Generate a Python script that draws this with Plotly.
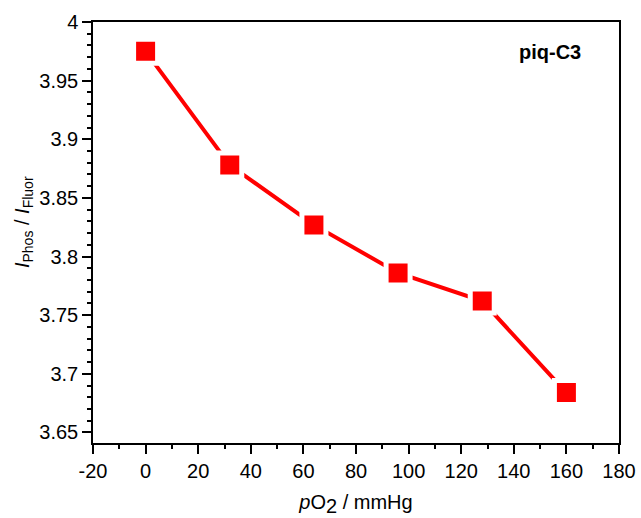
import plotly.graph_objects as go

# Oxygen partial pressure (mmHg) and phosphorescence/fluorescence intensity ratio
po2 = [0, 32, 64, 96, 128, 160]
ratio = [3.975, 3.878, 3.827, 3.786, 3.762, 3.684]

x_tickvals = [-20, 0, 20, 40, 60, 80, 100, 120, 140, 160, 180]
x_ticktext = ["-20", "0", "20", "40", "60", "80", "100", "120", "140", "160", "180"]

sample_label = "piq-C3"
font_family = "Liberation Sans, Arial, sans-serif"

fig = go.Figure()
fig.add_trace(go.Scatter(
    x=po2, y=ratio,
    mode="lines+markers",
    line=dict(color="#ff0000", width=4),
    marker=dict(symbol="square", size=24, color="#ff0000",
                line=dict(color="white", width=5)),
    showlegend=False,
))

axis_common = dict(
    showline=True, linecolor="black", linewidth=1.5, mirror=True,
    ticks="outside", ticklen=9, tickwidth=1.5, tickcolor="black",
    showgrid=False, zeroline=False, automargin=False,
    tickfont=dict(family=font_family, size=20, color="black"),
)

fig.update_xaxes(
    range=[-20, 180], tickvals=x_tickvals, ticktext=x_ticktext,
    minor=dict(ticks="outside", ticklen=4, tickwidth=1.5, tickcolor="black", dtick=10),
    title=dict(text="<i>p</i>O<sub><span style='font-size:20px'>2</span></sub> / mmHg",
               font=dict(family=font_family, size=20, color="black"), standoff=14),
    **axis_common,
)
fig.update_yaxes(
    range=[3.641, 4.0], tick0=4, dtick=0.05,
    minor=dict(ticks="outside", ticklen=4, tickwidth=1.5, tickcolor="black", dtick=0.01),
    **axis_common,
)

# y-axis title as a rotated annotation for precise placement
fig.add_annotation(
    x=-0.131, y=0.525, xref="paper", yref="paper",
    xanchor="center", yanchor="middle", textangle=-90,
    text="<i>I</i><sub>Phos</sub> / <i>I</i><sub>Fluor</sub>", showarrow=False,
    font=dict(family=font_family, size=20, color="black"),
)

fig.add_annotation(
    x=0.868, y=0.929, xref="paper", yref="paper",
    xanchor="center", yanchor="middle",
    text="<b>" + sample_label + "</b>", showarrow=False,
    font=dict(family=font_family, size=20, color="black"),
)

fig.update_layout(
    width=641, height=518,
    margin=dict(l=93, r=22, t=22, b=75),
    paper_bgcolor="white", plot_bgcolor="white",
)

fig.write_html("out.html")
